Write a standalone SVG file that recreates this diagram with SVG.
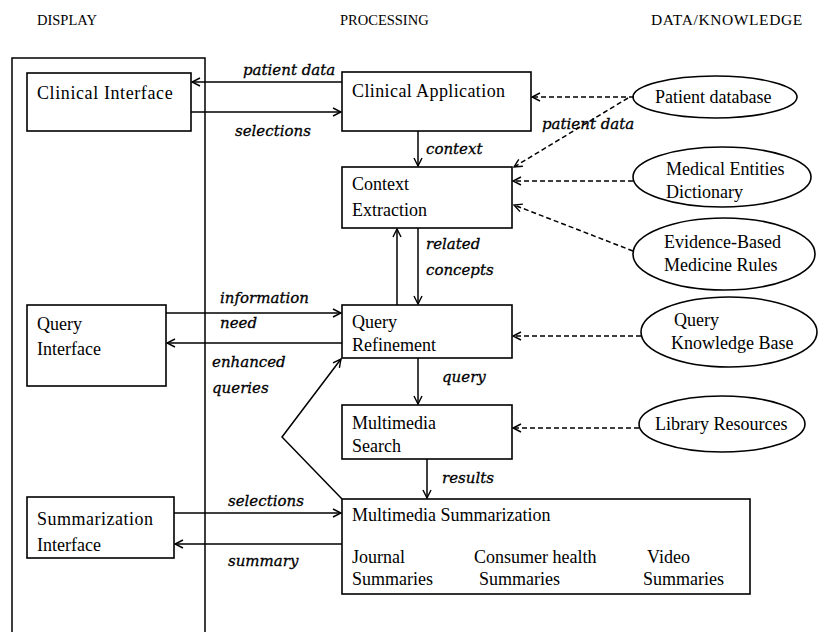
<svg xmlns="http://www.w3.org/2000/svg" width="818" height="632" viewBox="0 0 818 632">
<style>
.box{fill:#fff;stroke:#000;stroke-width:1.6}
.ell{fill:#fff;stroke:#000;stroke-width:1.6}
.t{font-family:"Liberation Serif","Times New Roman",serif;font-size:18px;fill:#000}
.h{font-family:"Liberation Serif","Times New Roman",serif;font-size:14.5px;fill:#000}
.lb{font-family:"DejaVu Serif","Liberation Serif",serif;font-size:15px;font-style:italic;fill:#000;stroke:#000;stroke-width:0.3}
.ln{fill:none;stroke:#000;stroke-width:1.5}
.ds{fill:none;stroke:#000;stroke-width:1.5;stroke-dasharray:5,3}
</style>
<defs>
<marker id="a" markerWidth="10" markerHeight="10" refX="9" refY="5" orient="auto" markerUnits="userSpaceOnUse">
<path d="M1,1 L9,5 L1,9" fill="none" stroke="#000" stroke-width="1.4"/>
</marker>
</defs>
<rect width="818" height="632" fill="#fff"/>
<g id="headers">
<text class="h" x="37" y="25">DISPLAY</text>
<text class="h" x="340" y="25">PROCESSING</text>
<text class="h" x="651" y="25" style="font-size:15.5px;letter-spacing:0.6px">DATA/KNOWLEDGE</text>
</g>
<g id="display-panel"><path class="ln" d="M12,640 V58 H205 V640"/></g>
<g id="clinical-interface"><rect class="box" x="27" y="73" width="164" height="58"/><text class="t" x="37" y="99" letter-spacing="0.6">Clinical Interface</text></g>
<g id="clinical-application"><rect class="box" x="342" y="72" width="189" height="59"/><text class="t" x="352" y="97" letter-spacing="0.4">Clinical Application</text></g>
<g id="context-extraction"><rect class="box" x="342" y="167" width="170" height="61"/><text class="t" x="352" y="190">Context</text><text class="t" x="352" y="216">Extraction</text></g>
<g id="query-refinement"><rect class="box" x="342" y="305" width="170" height="53"/><text class="t" x="352" y="328">Query</text><text class="t" x="352" y="351">Refinement</text></g>
<g id="multimedia-search"><rect class="box" x="342" y="405" width="170" height="54"/><text class="t" x="352" y="429">Multimedia</text><text class="t" x="352" y="452">Search</text></g>
<g id="multimedia-summarization"><rect class="box" x="342" y="499" width="408" height="95"/>
<text class="t" x="352" y="521">Multimedia Summarization</text>
<text class="t" x="352" y="563">Journal</text><text class="t" x="352" y="585">Summaries</text>
<text class="t" x="474" y="563">Consumer health</text><text class="t" x="479" y="585">Summaries</text>
<text class="t" x="647" y="563">Video</text><text class="t" x="643" y="585">Summaries</text></g>
<g id="query-interface"><rect class="box" x="27" y="305" width="139" height="81"/><text class="t" x="37" y="330">Query</text><text class="t" x="37" y="355">Interface</text></g>
<g id="summarization-interface"><rect class="box" x="27" y="497" width="147" height="61"/><text class="t" x="37" y="525" letter-spacing="0.5">Summarization</text><text class="t" x="37" y="551">Interface</text></g>
<g id="patient-database"><ellipse class="ell" cx="715" cy="97" rx="82" ry="21"/><text class="t" x="655" y="103">Patient database</text></g>
<g id="medical-entities-dictionary"><ellipse class="ell" cx="722" cy="177" rx="89" ry="30"/><text class="t" x="666" y="175">Medical Entities</text><text class="t" x="666" y="198">Dictionary</text></g>
<g id="evidence-based-medicine-rules"><ellipse class="ell" cx="724" cy="254" rx="91" ry="36"/><text class="t" x="664" y="248">Evidence-Based</text><text class="t" x="664" y="271">Medicine Rules</text></g>
<g id="query-knowledge-base"><ellipse class="ell" cx="729" cy="332" rx="88" ry="35"/><text class="t" x="674" y="326">Query</text><text class="t" x="671" y="349">Knowledge Base</text></g>
<g id="library-resources"><ellipse class="ell" cx="722" cy="424" rx="83" ry="28"/><text class="t" x="655" y="430">Library Resources</text></g>
<g id="connectors">
<line class="ln" x1="342" y1="82" x2="192" y2="82" marker-end="url(#a)"/>
<line class="ln" x1="191" y1="112" x2="341" y2="112" marker-end="url(#a)"/>
<line class="ln" x1="418" y1="131" x2="418" y2="166" marker-end="url(#a)"/>
<line class="ln" x1="418" y1="228" x2="418" y2="304" marker-end="url(#a)"/>
<line class="ln" x1="397" y1="305" x2="397" y2="229" marker-end="url(#a)"/>
<line class="ln" x1="166" y1="313" x2="341" y2="313" marker-end="url(#a)"/>
<line class="ln" x1="342" y1="343" x2="167" y2="343" marker-end="url(#a)"/>
<line class="ln" x1="418" y1="358" x2="418" y2="404" marker-end="url(#a)"/>
<line class="ln" x1="427" y1="459" x2="427" y2="498" marker-end="url(#a)"/>
<line class="ln" x1="174" y1="513" x2="341" y2="513" marker-end="url(#a)"/>
<line class="ln" x1="342" y1="544" x2="175" y2="544" marker-end="url(#a)"/>
<polyline class="ln" points="342,499 282,437 341,359" marker-end="url(#a)"/>
<line class="ds" x1="634" y1="97" x2="532" y2="97" marker-end="url(#a)"/>
<line class="ds" x1="628" y1="98" x2="514" y2="167" marker-end="url(#a)"/>
<line class="ds" x1="633" y1="181" x2="513" y2="181" marker-end="url(#a)"/>
<line class="ds" x1="633" y1="251" x2="514" y2="205" marker-end="url(#a)"/>
<line class="ds" x1="641" y1="336" x2="513" y2="336" marker-end="url(#a)"/>
<line class="ds" x1="639" y1="428" x2="513" y2="428" marker-end="url(#a)"/>
</g>
<g id="labels">
<text class="lb" x="243" y="75">patient data</text>
<text class="lb" x="235" y="136">selections</text>
<text class="lb" x="426" y="154">context</text>
<text class="lb" x="542" y="129">patient data</text>
<text class="lb" x="426" y="249">related</text>
<text class="lb" x="426" y="275">concepts</text>
<text class="lb" x="220" y="303">information</text>
<text class="lb" x="220" y="328">need</text>
<text class="lb" x="212" y="367">enhanced</text>
<text class="lb" x="212" y="393">queries</text>
<text class="lb" x="442" y="382">query</text>
<text class="lb" x="442" y="483">results</text>
<text class="lb" x="228" y="506">selections</text>
<text class="lb" x="228" y="566">summary</text>
</g>
</svg>
